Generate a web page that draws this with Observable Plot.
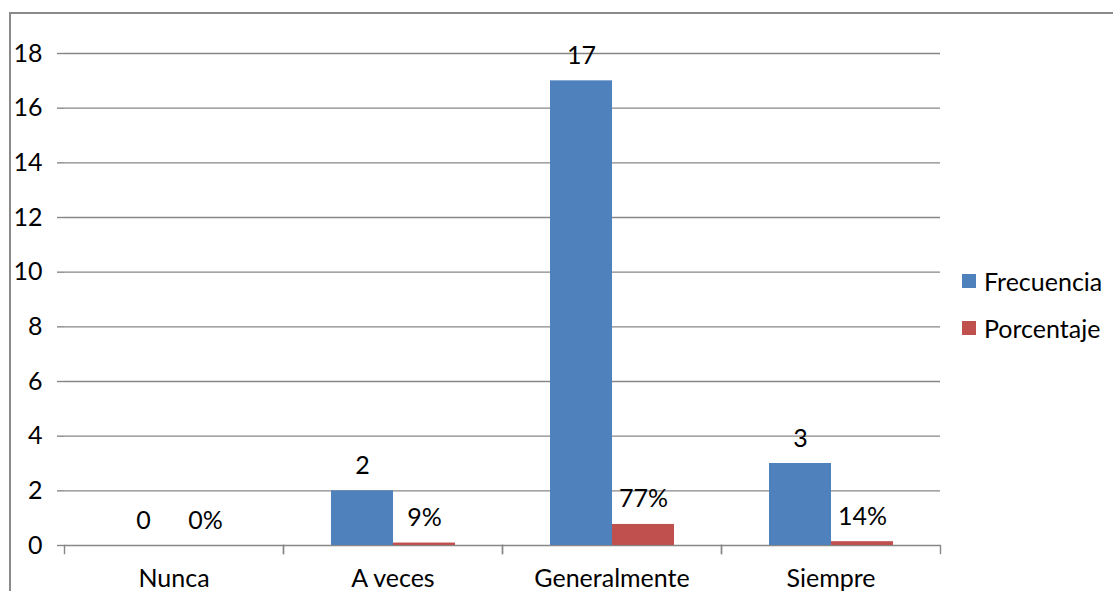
<!DOCTYPE html>
<html>
<head>
<meta charset="utf-8">
<script src="https://cdn.jsdelivr.net/npm/d3@7"></script>
<script src="https://cdn.jsdelivr.net/npm/@observablehq/plot@0.6"></script>
<style>
  html, body { margin: 0; padding: 0; background: #fff; }
  #chart { position: relative; width: 1113px; height: 591px; overflow: hidden; font-family: Lato, "Liberation Sans", sans-serif; color: #000; }
  #chart svg { position: absolute; left: 0; top: 0; }
  .border { position: absolute; left: 9px; top: 12px; width: 1200px; height: 700px; border-left: 2px solid #8a8a8a; border-top: 2px solid #8a8a8a; box-sizing: border-box; }
  .legend { position: absolute; left: 962px; font-size: 25px; }
  .legend .item { position: absolute; left: 0; height: 32px; display: flex; align-items: center; white-space: nowrap; }
  .legend .sw { width: 14px; height: 14px; margin-right: 8px; }
</style>
</head>
<body>
<div id="chart"><div class="border"></div></div>
<script>
// Responses per category
const categories = ["Nunca", "A veces", "Generalmente", "Siempre"];
const series = ["Frecuencia", "Porcentaje"];
const frecuencia = [0, 2, 17, 3];
const porcentaje = [0.00, 0.09, 0.77, 0.14];
const yTicks = [0, 2, 4, 6, 8, 10, 12, 14, 16, 18];
const colors = ["#4F81BD", "#C0504D"];

const pct = d3.format(".0%");
const rows = categories.flatMap((cat, i) => [
  {cat, series: series[0], value: frecuencia[i], label: String(frecuencia[i])},
  {cat, series: series[1], value: porcentaje[i], label: pct(porcentaje[i])}
]);

const gridColor = "#878787";
const fontSize = 25;

const plot = Plot.plot({
  width: 1113,
  height: 591,
  marginLeft: 64,
  marginRight: 173,
  marginTop: 53,
  marginBottom: 46,
  style: {fontFamily: "Lato, 'Liberation Sans', sans-serif", fontSize: fontSize + "px", color: "#000", background: "transparent", overflow: "visible"},
  fx: {domain: categories, padding: 0, label: null, tickSize: 0, tickPadding: 24},
  x: {domain: series, paddingInner: 0, paddingOuter: 0.752, axis: null},
  y: {domain: [0, 18], ticks: yTicks, label: null},
  color: {domain: series, range: colors},
  marks: [
    Plot.gridY(yTicks, {stroke: gridColor, strokeOpacity: 1, strokeWidth: 1.4}),
    Plot.barY(rows, {fx: "cat", x: "series", y: "value", fill: "series"}),
    Plot.text(rows, {fx: "cat", x: "series", y: "value", text: "label", dy: -25, fontSize, fill: "#000"}),
    // category boundary ticks below the baseline
    Plot.frame({anchor: "left", insetTop: 492, insetBottom: -8, stroke: gridColor, strokeWidth: 1.4}),
    Plot.frame({anchor: "right", insetTop: 492, insetBottom: -8, stroke: gridColor, strokeWidth: 1.4}),
    Plot.axisY({ticks: yTicks, tickSize: 7, tickPadding: 15, stroke: gridColor, strokeWidth: 1.4, fontSize}),
    Plot.axisY({ticks: [], line: true, tickSize: 0, stroke: gridColor, strokeWidth: 1.4})
  ]
});

document.getElementById("chart").appendChild(plot);

// legend
const legend = document.createElement("div");
legend.className = "legend";
series.forEach((s, i) => {
  const item = document.createElement("div");
  item.className = "item";
  item.style.top = (265 + i * 47) + "px";
  const sw = document.createElement("div");
  sw.className = "sw";
  sw.style.background = colors[i];
  const t = document.createElement("span");
  t.textContent = s;
  item.appendChild(sw);
  item.appendChild(t);
  legend.appendChild(item);
});
document.getElementById("chart").appendChild(legend);
</script>
</body>
</html>
